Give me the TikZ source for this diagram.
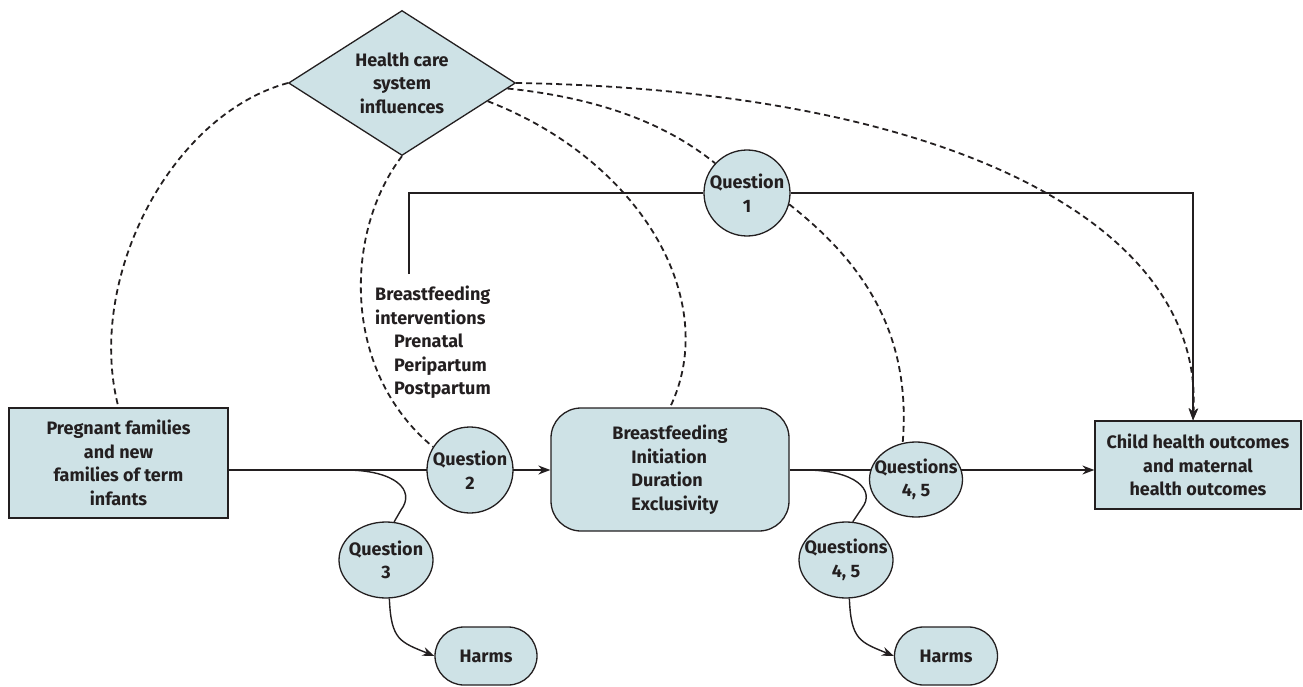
\documentclass[tikz,border=0pt]{standalone}
\usepackage{fontspec}
\setmainfont{Fira Sans}
\usetikzlibrary{shapes.geometric,arrows.meta}
\definecolor{boxfill}{RGB}{206,226,230}
\definecolor{ink}{RGB}{35,31,32}
\pgfdeclarelayer{bg}
\pgfsetlayers{bg,main}
\begin{document}
\begin{tikzpicture}[x=1pt,y=-1pt,
  every node/.style={font=\fontsize{18}{23.5}\selectfont\bfseries, text=ink, inner sep=0pt},
  shp/.style={draw=ink, line width=1.3pt, fill=boxfill, align=center},
  qn/.style={shp, ellipse, label={[align=center]center:#1}},
  conn/.style={draw=ink, line width=1.4pt},
  dsh/.style={conn, line width=1.8pt, dash pattern=on 6pt off 4pt},
  arr/.style={-{Stealth[length=12pt,width=9pt]}}]
\useasboundingbox (0,0) rectangle (1303,687);

% nodes
\node[shp, diamond, aspect=1.6, minimum width=227pt, minimum height=145pt] (hcs) at (402,83) {Health care\\system\\influences};
\node[shp, rectangle, minimum width=219pt, minimum height=110pt] (preg) at (118.5,463) {Pregnant families\\and new\\families of term\\infants};
\node[shp, rectangle, rounded corners=30pt, minimum width=238pt, minimum height=123pt, align=left] (bf) at (670,469.5) {Breastfeeding\\\hspace*{19pt}Initiation\\\hspace*{19pt}Duration\\\hspace*{19pt}Exclusivity};
\node[shp, rectangle, minimum width=206pt, minimum height=88pt] (child) at (1198,465) {Child health outcomes\\and maternal\\health outcomes};
\node[qn={Question\\1}, minimum width=86pt, minimum height=86pt] (q1) at (747,193) {};
\node[qn={Question\\2}, minimum width=86pt, minimum height=86pt] (q2) at (470,470) {};
\node[qn={Question\\3}, minimum width=94pt, minimum height=76pt] (q3) at (386,560) {};
\node[qn={Questions\\4, 5}, minimum width=93pt, minimum height=75pt] (q45a) at (916,479.5) {};
\node[qn={Questions\\4, 5}, minimum width=94pt, minimum height=76pt] (q45b) at (846,560) {};
\node[shp, rectangle, rounded corners=29pt, minimum width=102pt, minimum height=58pt] (harms1) at (486,656) {Harms};
\node[shp, rectangle, rounded corners=29pt, minimum width=103pt, minimum height=58pt] (harms2) at (946,656) {Harms};
\node[anchor=north west, align=left] (interv) at (375,286) {Breastfeeding\\interventions\\\hspace*{19pt}Prenatal\\\hspace*{19pt}Peripartum\\\hspace*{19pt}Postpartum};

\coordinate (ivtop) at (409,274);
\coordinate (c2) at (1193,193);
\coordinate (b1) at (345,470);
\coordinate (b2) at (805,470);

\begin{pgfonlayer}{bg}
  % solid connectors
  \draw[conn, arr] (preg.east |- q2) -- (bf.west |- q2);
  \draw[conn, arr] (bf.east |- q2) -- (child.west |- q2);
  \draw[conn] (ivtop) |- (q1);
  \draw[conn, arr] (q1) -- (c2) -- (c2 |- child.north);
  \draw[conn] (b1) .. controls (395,470) and (416,490) .. (401,510) -- (q3.78);
  \draw[conn] (b2) .. controls (855,470) and (876,490) .. (862,508) -- (q45b.80);
  \draw[conn, arr] (q3.-85) .. controls (391,640) and (400,642) .. (harms1.west);
  \draw[conn, arr] (q45b.-85) .. controls (851,640) and (860,642) .. (harms2.west);
  % dashed influences
  \draw[dsh] (hcs.west) .. controls (170,115) and (85,280) .. (preg.north);
  \draw[dsh] (hcs.south) .. controls (345,230) and (340,370) .. (q2.148);
  \draw[dsh] (hcs.-12) .. controls (640,160) and (722,300) .. (bf.north);
  \draw[dsh] (hcs.-3) .. controls (620,100) and (680,135) .. (q1.137);
  \draw[dsh, arr] (hcs.east) .. controls (940,90) and (1205,220) .. (c2 |- child.north);
  \draw[dsh] (q1.-15) .. controls (860,260) and (912,330) .. (q45a.110);
\end{pgfonlayer}
\end{tikzpicture}
\end{document}
